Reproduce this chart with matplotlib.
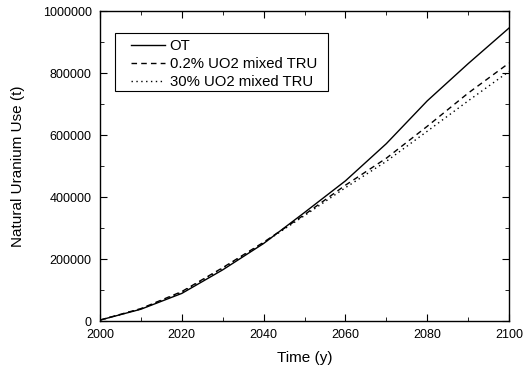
import matplotlib
matplotlib.use("Agg")
import matplotlib.pyplot as plt
from matplotlib.patches import Rectangle
from matplotlib.ticker import MultipleLocator, FormatStrFormatter

plt.rcParams['font.family'] = ['Liberation Sans', 'DejaVu Sans']

# Data
years = [2000, 2010, 2020, 2030, 2040, 2050, 2060, 2070, 2080, 2090, 2100]
ot = [3000, 38000, 89000, 165000, 250000, 350000, 452000, 572000, 710000, 830000, 945000]
uo2_02 = [3000, 40000, 95000, 172000, 254000, 343000, 438000, 525000, 628000, 735000, 832000]
uo2_30 = [3000, 39000, 93000, 170000, 252000, 340000, 430000, 515000, 612000, 710000, 805000]

fig = plt.figure(figsize=(5.26, 3.69), dpi=100)
ax = fig.add_axes([100/526, 1-321/369, 409/526, 310/369])

ax.plot(years, ot, color='black', lw=1.0, label='OT')
ax.plot(years, uo2_02, color='black', lw=1.0, linestyle=(0, (4, 3)), label='0.2% UO2 mixed TRU')
ax.plot(years, uo2_30, color='black', lw=1.0, linestyle=(0, (1, 2.5)), label='30% UO2 mixed TRU')

ax.set_xlim(2000, 2100)
ax.set_ylim(0, 1000000)
ax.xaxis.set_major_locator(MultipleLocator(20))
ax.xaxis.set_minor_locator(MultipleLocator(10))
ax.yaxis.set_major_locator(MultipleLocator(200000))
ax.yaxis.set_minor_locator(MultipleLocator(100000))
ax.yaxis.set_major_formatter(FormatStrFormatter('%d'))
ax.tick_params(which='both', direction='in', top=True, right=True, labelsize=9)
ax.tick_params(which='major', length=5)
ax.tick_params(axis='y', which='major', pad=6)
ax.tick_params(axis='x', which='major', pad=6)
ax.tick_params(which='minor', length=3)
for s in ax.spines.values():
    s.set_linewidth(1.0)

ax.set_xlabel('Time (y)', fontsize=11, labelpad=7)
ax.set_ylabel('Natural Uranium Use (t)', fontsize=11, labelpad=13)

# legend box drawn separately so the padding matches the reference
ax.add_patch(Rectangle((0.0367, 0.742), 0.52, 0.187, transform=ax.transAxes,
                       facecolor='white', edgecolor='black', lw=0.8, zorder=4))
leg = ax.legend(loc='upper left', bbox_to_anchor=(0.0758, 0.91), fontsize=10.7,
                frameon=False, borderaxespad=0, borderpad=0,
                handlelength=2.3, labelspacing=0.28, handletextpad=0.3)
leg.set_zorder(5)

fig.savefig('out.png', dpi=100)
